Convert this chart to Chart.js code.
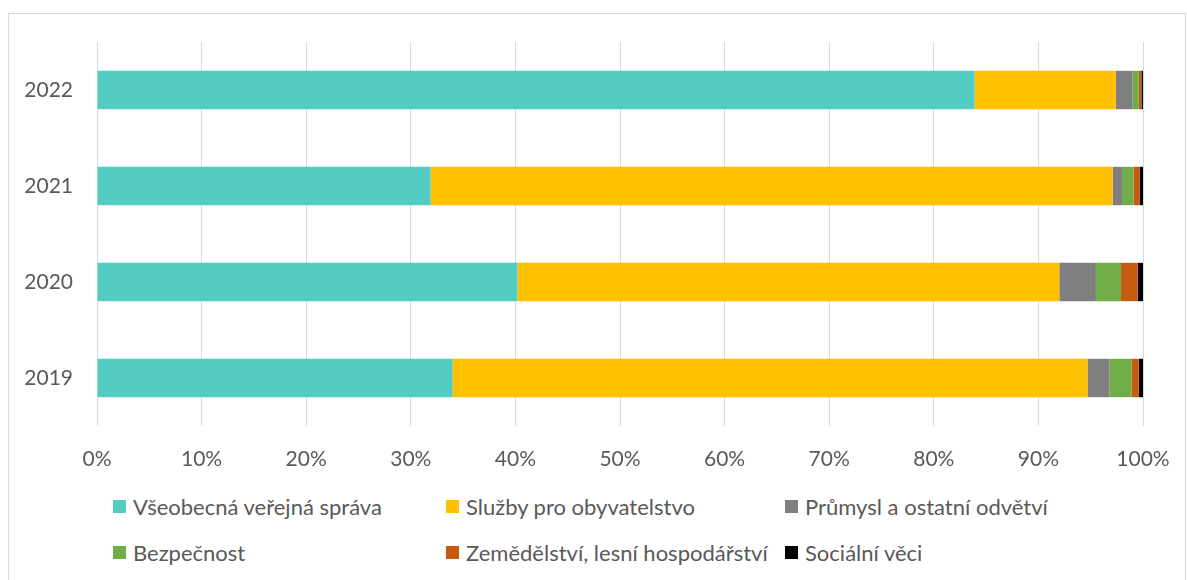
<!DOCTYPE html>
<html>
<head>
    <meta charset="utf-8">
    <title>Struktura výdajů</title>
    <script src="https://cdn.jsdelivr.net/npm/chart.js"></script>
    <style>
        body { margin: 0; background: #fff; width: 1187px; height: 580px; overflow: hidden; font-family: Lato, 'Open Sans', sans-serif; }
        .frame { position: absolute; left: 8px; top: 13px; width: 1176px; height: 600px; border: 1px solid #d9d9d9; }
        .chart-box { position: absolute; left: 0; top: 0; width: 1187px; height: 480px; }
        .legend { position: absolute; left: 113px; top: 492px; display: grid; grid-template-columns: 333px 339px 340px; row-gap: 18px; color: #595959; font-size: 22px; }
        .legend-item { display: flex; align-items: center; height: 28px; }
        .legend-item span.box { width: 13px; height: 13px; margin-right: 7px; }
    </style>
</head>
<body>
    <div class="frame"></div>
    <div class="chart-box"><canvas id="podilChart"></canvas></div>
    <div class="legend" id="legend"></div>

    <script>
        const years = ['2022', '2021', '2020', '2019'];
        const xTicks = [0, 10, 20, 30, 40, 50, 60, 70, 80, 90, 100];

        const verejnaSprava = [83.9, 31.9, 40.2, 34.0];
        const sluzby = [13.5, 65.2, 51.8, 60.7];
        const prumysl = [1.6, 0.9, 3.5, 2.1];
        const bezpecnost = [0.6, 1.1, 2.4, 2.1];
        const zemedelstvi = [0.25, 0.6, 1.6, 0.7];
        const socialni = [0.15, 0.3, 0.5, 0.4];

        const seriesNames = ['Všeobecná veřejná správa', 'Služby pro obyvatelstvo', 'Průmysl a ostatní odvětví',
            'Bezpečnost', 'Zemědělství, lesní hospodářství', 'Sociální věci'];
        const seriesData = [verejnaSprava, sluzby, prumysl, bezpecnost, zemedelstvi, socialni];
        const seriesColors = ['#53cdc2', '#ffc000', '#7f7f7f', '#70ad47', '#c55a11', '#000000'];

        const datasets = seriesNames.map((name, i) => ({
            label: name,
            data: seriesData[i],
            backgroundColor: seriesColors[i],
            borderWidth: 0,
            barPercentage: 0.4,
            categoryPercentage: 1
        }));

        const ctx = document.getElementById('podilChart').getContext('2d');
        const chart = new Chart(ctx, {
            type: 'bar',
            data: { labels: years, datasets: datasets },
            options: {
                indexAxis: 'y',
                responsive: true,
                maintainAspectRatio: false,
                animation: false,
                layout: { padding: { top: 42, right: 44, left: 0, bottom: 0 } },
                plugins: { legend: { display: false }, tooltip: { enabled: false } },
                scales: {
                    x: {
                        stacked: true,
                        min: 0,
                        max: 100,
                        afterBuildTicks: (scale) => { scale.ticks = xTicks.map(v => ({ value: v })); },
                        afterFit: (scale) => {
                            scale.height = 54;
                            scale.paddingRight = 0;
                            scale.paddingLeft = 0;
                        },
                        grid: { color: '#d9d9d9', lineWidth: 1, drawTicks: false },
                        border: { display: false },
                        ticks: {
                            padding: 21,
                            color: '#595959',
                            font: { family: 'Lato', size: 21 },
                            callback: (v) => v + '%'
                        }
                    },
                    y: {
                        stacked: true,
                        afterFit: (scale) => { scale.width = 97; },
                        grid: { display: false },
                        border: { display: false },
                        ticks: {
                            padding: 16,
                            color: '#595959',
                            font: { family: 'Lato', size: 21 }
                        }
                    }
                }
            }
        });

        // html legend, three columns like in the original
        const legendEl = document.getElementById('legend');
        seriesNames.forEach((name, i) => {
            const item = document.createElement('div');
            item.className = 'legend-item';
            item.innerHTML = '<span class="box" style="background:' + seriesColors[i] + '"></span>' + name;
            legendEl.appendChild(item);
        });
    </script>
</body>
</html>
